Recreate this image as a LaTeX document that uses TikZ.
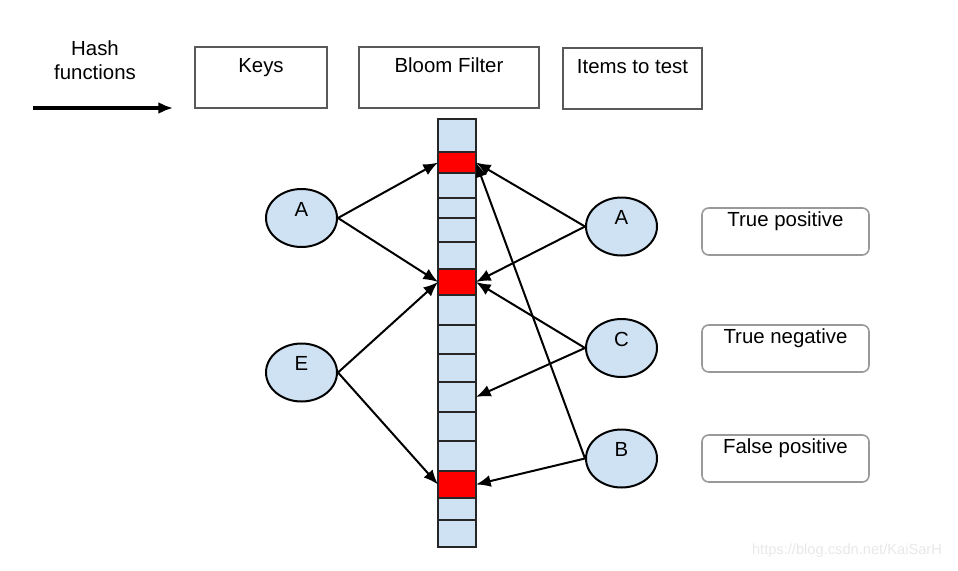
\documentclass[tikz,border=0pt]{standalone}
\usepackage{fontspec}
\setmainfont{Liberation Sans}
\usetikzlibrary{arrows.meta, shapes.geometric, positioning}
\definecolor{cellblue}{RGB}{207,226,243}
\definecolor{boxgray}{RGB}{89,89,89}
\definecolor{resgray}{RGB}{153,153,153}

\begin{document}
\begin{tikzpicture}[x=0.75pt, y=-0.75pt,
            % Style for all the texts
            txt/.style={font=\fontsize{15.3}{18}\selectfont},
            % Style for the header boxes on top
            head/.style={draw=boxgray, line width=0.9pt, minimum height=45.75pt, inner sep=0},
            % Style for the rounded result boxes on the right
            result/.style={draw=resgray, line width=1.2pt, rounded corners=5pt, minimum width=125.25pt, minimum height=35.25pt, inner sep=0},
            % Style for the keys and the tested items
            item/.style={ellipse, draw, line width=1.5pt, fill=cellblue, minimum width=53.25pt, minimum height=43.5pt, inner sep=0},
            % Style for the cells of the filter
            cell/.style={draw=black!85, line width=1.5pt, minimum width=28.5pt, inner sep=0, outer sep=0},
            % Style for the hash arrows
            arr/.style={-{Latex[length=11pt, width=9pt]}, line width=1.5pt}
        ]
        \useasboundingbox (0,0) rectangle (958,571);

        % --- Header: legend arrow and the three titles ---
        \node[txt, align=center] (hash) at (95,60) {Hash\\functions};
        \coordinate (hs) at (33,108);
        \coordinate (he) at (173,108);
        \draw[arr, line width=2.4pt] (hs) -- (he);

        \node[head, minimum width=99pt, label={[txt, anchor=north, inner sep=0, yshift=-9pt]north:Keys}] (keys) at (261,77.5) {};
        \node[head, minimum width=135pt, label={[txt, anchor=north, inner sep=0, yshift=-8.5pt]north:Bloom Filter}] (bloom) at (449,77.5) {};
        \node[head, minimum width=104.25pt, label={[txt, anchor=north, inner sep=0, yshift=-8.5pt]north:Items to test}] (items) at (632.5,78.5) {};

        % --- The bit array: 16 cells, three of them set ---
        \foreach \n/\ya/\yb/\col in {0/119/152/cellblue, 1/152/173/red, 2/173/198/cellblue, 3/198/218/cellblue,
                                     4/218/242/cellblue, 5/242/269/cellblue, 6/269/295/red, 7/295/325/cellblue,
                                     8/325/354/cellblue, 9/354/382/cellblue, 10/382/412/cellblue, 11/412/441/cellblue,
                                     12/441/471/cellblue, 13/471/498/red, 14/498/520/cellblue, 15/520/547/cellblue} {
            \pgfmathsetmacro\h{(\yb-\ya)*0.75}
            \node[cell, fill=\col, minimum height=\h pt] (c\n) at (457,{(\ya+\yb)/2}) {};
        }

        % --- Keys on the left ---
        \node[item, label={[txt, inner sep=0, yshift=6.75pt]center:A}] (ka) at (301.5,218) {};
        \node[item, label={[txt, inner sep=0, yshift=6.75pt]center:E}] (ke) at (301.5,372.5) {};

        % --- Items to test on the right ---
        \node[item, label={[txt, inner sep=0, yshift=6.75pt]center:A}] (ta) at (621.5,226.5) {};
        \node[item, label={[txt, inner sep=0, yshift=6.75pt]center:C}] (tc) at (621.5,348) {};
        \node[item, label={[txt, inner sep=0, yshift=6.75pt]center:B}] (tb) at (621.5,458.5) {};

        % --- Results ---
        \node[result, label={[txt, anchor=north, inner sep=0, yshift=-3.5pt]north:True positive}] (tp) at (785.5,231.5) {};
        \node[result, label={[txt, anchor=north, inner sep=0, yshift=-3.5pt]north:True negative}] (tn) at (785.5,348.5) {};
        \node[result, label={[txt, anchor=north, inner sep=0, yshift=-3.5pt]north:False positive}] (fp) at (785.5,458.5) {};

        % --- Hashing the keys ---
        \draw[arr] (ka.east) -- (c1.west);
        \draw[arr] (ka.east) -- (c6.west);
        \draw[arr] (ke.east) -- (c6.west);
        \draw[arr] (ke.east) -- (c13.west);

        % --- Hashing the tested items ---
        \draw[arr] (ta.west) -- (c1.east);
        \draw[arr] (ta.west) -- (c6.east);
        \draw[arr] (tc.west) -- (c6.east);
        \draw[arr] (tc.west) -- (c10.east);
        \draw[arr] (tb.west) -- (c1.east);
        \draw[arr] (tb.west) -- (c13.east);

        % watermark
        \node[font=\fontsize{11}{13}\selectfont, text=black!9] (mark) at (847,551) {https://blog.csdn.net/KaiSarH};

        \end{tikzpicture}
\end{document}
